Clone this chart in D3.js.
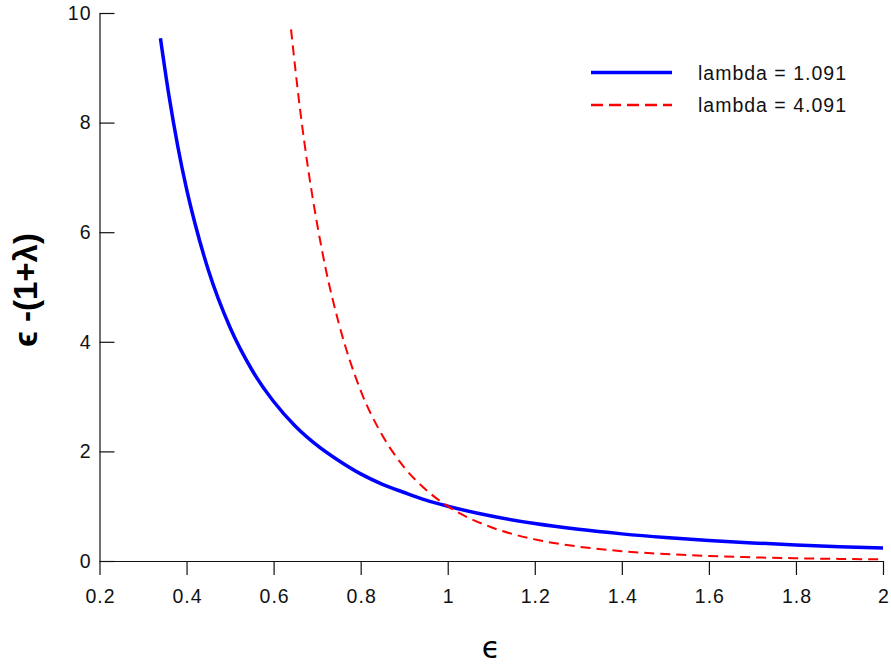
<!DOCTYPE html>
<html>
<head>
<meta charset="utf-8">
<script src="https://cdn.jsdelivr.net/npm/d3@7"></script>
<style>
  body { margin: 0; background: #fff; }
  svg { font-family: "Liberation Sans", Arial, sans-serif; }
</style>
</head>
<body>
<div id="chart"></div>
<script>
// values
const epsLow = [0.34, 0.36, 0.38, 0.40, 0.42, 0.45, 0.50, 0.55, 0.60, 0.65, 0.70, 0.75, 0.80, 0.85, 0.90, 0.95, 1.00, 1.1, 1.2, 1.3, 1.4, 1.5, 1.6, 1.7, 1.8, 1.9, 2.0];
const valLow = [9.54, 8.47, 7.56, 6.79, 6.14, 5.31, 4.26, 3.49, 2.91, 2.46, 2.11, 1.83, 1.59, 1.40, 1.25, 1.11, 1.00, 0.82, 0.683, 0.578, 0.495, 0.428, 0.374, 0.330, 0.293, 0.261, 0.235];

const epsHigh = [0.64, 0.66, 0.68, 0.70, 0.72, 0.75, 0.80, 0.85, 0.90, 0.95, 1.00, 1.1, 1.2, 1.3, 1.4, 1.5, 1.6, 1.7, 1.8, 1.9, 2.0];
const valHigh = [9.70, 8.29, 7.12, 6.15, 5.32, 4.33, 3.11, 2.29, 1.71, 1.30, 1.00, 0.616, 0.395, 0.263, 0.180, 0.127, 0.091, 0.067, 0.050, 0.038, 0.029];

const seriesNames = ['lambda = 1.091', 'lambda = 4.091'];
const xTicks = [0.2, 0.4, 0.6, 0.8, 1, 1.2, 1.4, 1.6, 1.8, 2];
const xTickLabels = ['0.2', '0.4', '0.6', '0.8', '1', '1.2', '1.4', '1.6', '1.8', '2'];
const yTicks = [0, 2, 4, 6, 8, 10];
const yTickLabels = ['0', '2', '4', '6', '8', '10'];

const W = 891, H = 664;
const plotLeft = 99.5, plotTop = 13, plotRight = 883, plotBottom = 561;
const fontSize = 19.5;

const svg = d3.select('#chart').append('svg')
  .attr('width', W)
  .attr('height', H);

const x = d3.scaleLinear().domain([0.2, 2]).range([plotLeft, plotRight]);
const y = d3.scaleLinear().domain([0, 10]).range([plotBottom, plotTop]);

// axes
const xAxis = d3.axisBottom(x)
  .tickValues(xTicks)
  .tickFormat((d, i) => xTickLabels[i])
  .tickSizeInner(14).tickSizeOuter(0).tickPadding(14);

const yAxis = d3.axisLeft(y)
  .tickValues(yTicks)
  .tickFormat((d, i) => yTickLabels[i])
  .tickSizeInner(-15).tickSizeOuter(0).tickPadding(8);

const gx = svg.append('g').attr('transform', `translate(0,${plotBottom})`).call(xAxis);
const gy = svg.append('g').attr('transform', `translate(${plotLeft},0)`).call(yAxis);

[gx, gy].forEach(g => {
  g.selectAll('path, line').attr('stroke', '#111').attr('stroke-width', 1.2);
  g.selectAll('text').attr('font-size', fontSize).attr('fill', '#111')
    .attr('letter-spacing', 1)
    .attr('font-family', '"Liberation Sans", Arial, sans-serif');
});
gx.selectAll('text').attr('dx', 0.5);

// curves
const line = d3.line()
  .x(d => x(d[0]))
  .y(d => y(d[1]))
  .curve(d3.curveMonotoneX);

svg.append('path')
  .datum(epsLow.map((e, i) => [e, valLow[i]]))
  .attr('d', line)
  .attr('fill', 'none')
  .attr('stroke', '#0000ff')
  .attr('stroke-width', 3.5);

svg.append('path')
  .datum(epsHigh.map((e, i) => [e, valHigh[i]]))
  .attr('d', line)
  .attr('fill', 'none')
  .attr('stroke', '#ff0000')
  .attr('stroke-width', 2)
  .attr('stroke-dasharray', '10,6');

// legend
const legend = svg.append('g');
const legStyles = [
  { color: '#0000ff', width: 3.5, dash: null, yy: 72.5 },
  { color: '#ff0000', width: 2.5, dash: '12,6', yy: 105 }
];
seriesNames.forEach((name, i) => {
  const s = legStyles[i];
  legend.append('line')
    .attr('x1', 591).attr('x2', 672)
    .attr('y1', s.yy).attr('y2', s.yy)
    .attr('stroke', s.color)
    .attr('stroke-width', s.width)
    .attr('stroke-dasharray', s.dash);
  legend.append('text')
    .attr('x', 698).attr('y', s.yy + 7)
    .attr('font-size', fontSize)
    .attr('letter-spacing', 1)
    .attr('fill', '#111')
    .text(name);
});

// axis titles
svg.append('text')
  .attr('x', 491).attr('y', 658)
  .attr('text-anchor', 'middle')
  .attr('font-size', 30)
  .attr('font-family', '"DejaVu Sans", sans-serif')
  .text('\u03F5');

svg.append('text')
  .attr('transform', 'translate(37,290) rotate(-90)')
  .attr('text-anchor', 'middle')
  .attr('font-size', 33)
  .attr('font-weight', 'bold')
  .attr('font-family', '"Liberation Sans", Arial, sans-serif')
  .text('\u03F5  -(1+\u03BB)');
</script>
</body>
</html>
